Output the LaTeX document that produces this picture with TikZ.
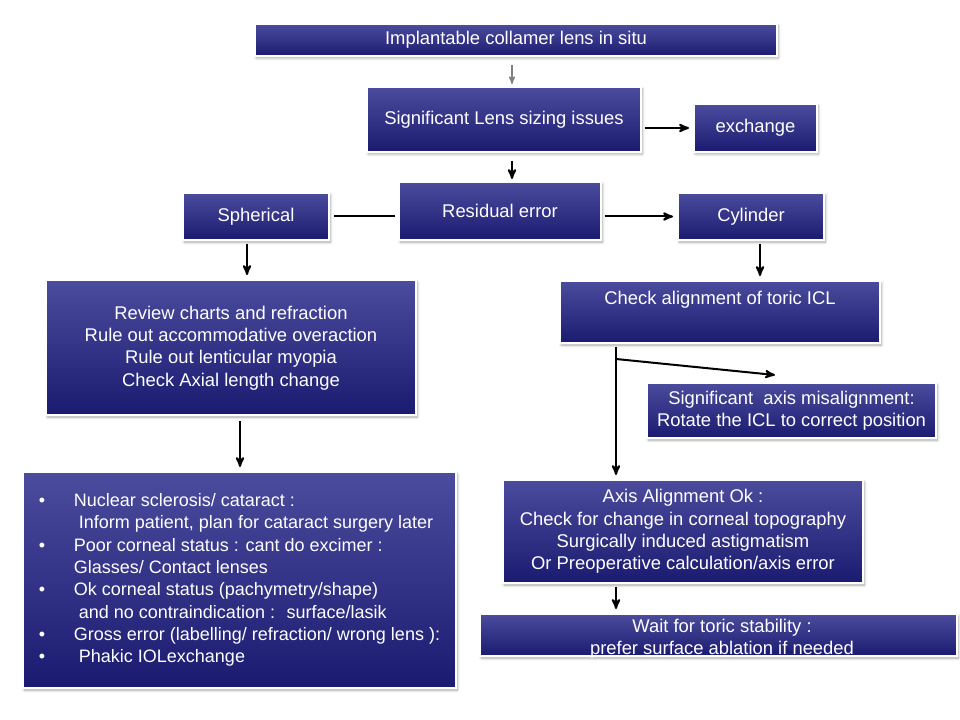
\documentclass[tikz,border=0pt]{standalone}
\usepackage{fontspec}
\setmainfont{Liberation Sans}
\usepackage{tikz}
\usetikzlibrary{arrows}
\usetikzlibrary{calc}
\usetikzlibrary{shadows.blur}

\definecolor{boxtop}{RGB}{76,76,158}
\definecolor{boxbot}{RGB}{26,26,112}
\newcommand{\bul}{\makebox[26.25pt][l]{\textbullet}}
\newcommand{\ind}{\hspace*{26.25pt}}

\begin{document}
\begin{tikzpicture}[x=0.75pt,y=-0.75pt,->,>=stealth',shorten >=3pt,shorten <=2pt,line width=1.5pt,
	box/.style={rectangle,draw=white,line width=1.5pt,top color=boxtop,bottom color=boxbot,text=white,font=\fontsize{13.8}{16.7}\selectfont,align=center,inner sep=0pt,blur shadow={shadow blur steps=6,shadow xshift=1pt,shadow yshift=-1.5pt,shadow opacity=35}},
	boxtext/.style={text=white,font=\fontsize{13.8}{16.7}\selectfont,align=center,inner sep=0pt}]

				\path[use as bounding box] (0,0) rectangle (960,720);

				\node[box,minimum width=391.5pt,minimum height=24pt] (icl) at (516,40) {Implantable collamer lens in situ};
				\node[box,minimum width=205.5pt,minimum height=48.75pt] (size) at (504,119.5) {Significant Lens sizing issues};
				\node[box,minimum width=92.25pt,minimum height=36pt] (exch) at (755.5,128) {exchange};
				\node[box,minimum width=151.5pt,minimum height=43.5pt] (resid) at (500,211) {Residual error};
				\node[box,minimum width=109.5pt,minimum height=35.25pt] (sph) at (256,216.5) {Spherical};
				\node[box,minimum width=109.5pt,minimum height=35.25pt] (cyl) at (751,216.5) {Cylinder};
				\node[box,minimum width=277.5pt,minimum height=101.25pt,text depth=2pt] (review) at (231,347.5) {Review charts and refraction\\Rule out accommodative overaction\\Rule out lenticular myopia\\Check Axial length change};
				\node[box,minimum width=240pt,minimum height=46.5pt] (check) at (720,312) {Check alignment of toric ICL\\\strut};
				\node[box,minimum width=216.75pt,minimum height=41.25pt] (misal) at (791.5,410.5) {Significant~ axis misalignment:\\Rotate the ICL to correct position};
				\node[box,minimum width=270pt,minimum height=77.25pt] (axisok) at (683,531.5) {Axis Alignment Ok :\\Check for change in corneal topography\\Surgically induced astigmatism\\Or Preoperative calculation/axis error};
				\node[box,minimum width=357.75pt,minimum height=31.5pt] (wait) at (718.5,635) {};
				\node[boxtext] (waittxt) at (722,638.5) {Wait for toric stability :\\prefer surface ablation if needed};
				\node[box,minimum width=324.75pt,minimum height=162pt,align=left,font=\fontsize{13.5}{16.7}\selectfont] (opts) at (239.5,580) {%
					\bul Nuclear sclerosis/ cataract :\\
					\ind\ Inform patient, plan for cataract surgery later\\
					\bul Poor corneal status : cant do excimer :\\
					\ind Glasses/ Contact lenses\\
					\bul Ok corneal status (pachymetry/shape)\\
					\ind\ and no contraindication :~ surface/lasik\\
					\bul Gross error (labelling/ refraction/ wrong lens ):\\
					\bul\ Phakic IOLexchange};

				% connectors
				\draw[gray,line width=1pt,shorten <=6pt,shorten >=1.5pt] ([xshift=-3pt]icl.south) -- ([xshift=-3pt]icl.south |- size.north);
				\draw (size.east |- exch.west) -- (exch.west);
				\draw[shorten <=6pt,shorten >=1.5pt] ([xshift=6pt]size.south) -- ([xshift=6pt]size.south |- resid.north);
				\draw[-] (resid.west |- sph.east) -- (sph.east);
				\draw (resid.east |- cyl.west) -- (cyl.west);
				\draw ([xshift=-6.75pt]sph.south) -- ([xshift=-6.75pt]sph.south |- review.north);
				\draw ([xshift=6.75pt]cyl.south) -- ([xshift=6.75pt]cyl.south |- check.north);
				\draw[shorten <=4pt] ([xshift=6.75pt]review.south) -- ([xshift=6.75pt]review.south |- opts.north);
				\coordinate (split) at ([xshift=-78pt,yshift=-11.25pt]check.south);
				\draw ([xshift=-78pt]check.south) -- ([xshift=-78pt]check.south |- axisok.north);
				\draw[shorten <=0pt,shorten >=0pt] (split) -- ([xshift=-12.4pt,yshift=5.25pt]misal.north);
				\draw ([xshift=-50.25pt]axisok.south) -- ([xshift=-50.25pt]axisok.south |- wait.north);

\end{tikzpicture}
\end{document}
